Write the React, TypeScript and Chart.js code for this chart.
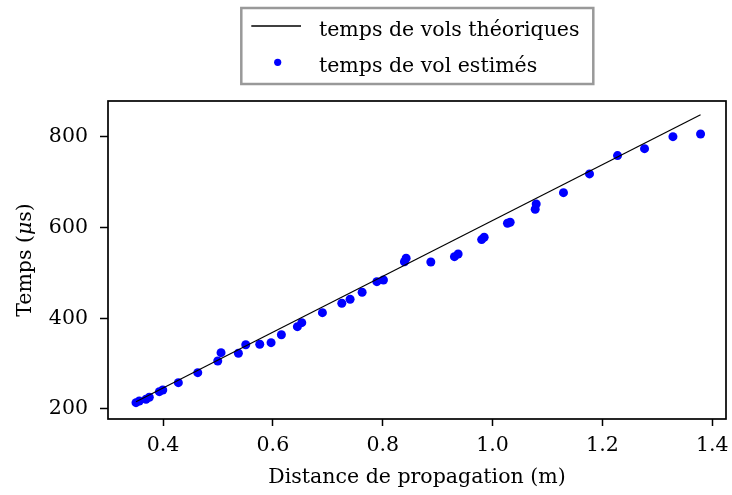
import React, { useEffect, useRef } from "react";
import { Chart, registerables } from "chart.js";

Chart.register(...registerables);

const distances = [
  0.3508, 0.3568, 0.369, 0.375, 0.3933, 0.3995, 0.4279, 0.4632, 0.4996, 0.5056,
  0.5372, 0.5506, 0.5761, 0.5967, 0.6155, 0.6446, 0.6526, 0.6902, 0.7255, 0.7406,
  0.7625, 0.7893, 0.8013, 0.8395, 0.8426, 0.8876, 0.9306, 0.9373, 0.9801, 0.9847,
  1.0271, 1.032, 1.0776, 1.0794, 1.1291, 1.1765, 1.2275, 1.2767, 1.3284, 1.3787,
];
const estimatedTimes = [
  213.9, 217.6, 221.4, 225.8, 238.2, 241.9, 258.0, 280.1, 305.9, 324.2,
  322.9, 341.8, 342.7, 346.3, 363.7, 381.6, 390.4, 412.5, 433.2, 442.0,
  457.4, 480.8, 484.6, 524.9, 532.5, 524.3, 536.0, 541.9, 573.7, 578.8,
  609.7, 611.9, 640.6, 652.3, 677.2, 718.5, 758.9, 774.2, 800.7, 806.6,
];
const theoryDistances = [0.3508, 1.3787];
const theoryTimes = [216, 849];
const xTicks = [0.4, 0.6, 0.8, 1.0, 1.2, 1.4];
const yTicks = [200, 400, 600, 800];
const legendLabels = ["temps de vols théoriques", "temps de vol estimés"];
const xTitle = "Distance de propagation (m)";
const yTitleParts = ["Temps (", "μ", "s)"];

const FONT = "'DejaVu Serif', serif";
const FS = 20.5;

const decorPlugin = {
  id: "decor",
  afterDatasetsDraw(chart: any) {
    const { ctx, chartArea } = chart;
    ctx.save();
    ctx.strokeStyle = "#000";
    ctx.lineWidth = 1.7;
    ctx.strokeRect(chartArea.left, chartArea.top, chartArea.right - chartArea.left, chartArea.bottom - chartArea.top);
    ctx.restore();
  },
  afterDraw(chart: any) {
    const { ctx, chartArea } = chart;
    ctx.save();
    // legend box
    ctx.fillStyle = "#fff";
    ctx.fillRect(241.3, 8, 352, 76);
    ctx.strokeStyle = "#999";
    ctx.lineWidth = 2.5;
    ctx.strokeRect(241.3, 8, 352, 76);
    ctx.strokeStyle = "#000";
    ctx.lineWidth = 1.3;
    ctx.beginPath();
    ctx.moveTo(251.3, 26);
    ctx.lineTo(301, 26);
    ctx.stroke();
    ctx.fillStyle = "#0000ff";
    ctx.beginPath();
    ctx.arc(277.7, 62.3, 3.6, 0, Math.PI * 2);
    ctx.fill();
    ctx.fillStyle = "#000";
    ctx.font = `${FS}px ${FONT}`;
    ctx.textBaseline = "alphabetic";
    ctx.fillText(legendLabels[0], 319, 36);
    ctx.fillText(legendLabels[1], 319, 71.5);

    // y-axis title with italic mu
    const cy = (chartArea.top + chartArea.bottom) / 2;
    const normal = `${FS}px ${FONT}`;
    const italic = `italic ${FS}px ${FONT}`;
    ctx.font = normal;
    const w0 = ctx.measureText(yTitleParts[0]).width;
    const w2 = ctx.measureText(yTitleParts[2]).width;
    ctx.font = italic;
    const w1 = ctx.measureText(yTitleParts[1]).width;
    const total = w0 + w1 + w2;
    ctx.translate(26, cy);
    ctx.rotate(-Math.PI / 2);
    ctx.textBaseline = "middle";
    ctx.textAlign = "left";
    let x = -total / 2;
    ctx.font = normal;
    ctx.fillText(yTitleParts[0], x, 0);
    x += w0;
    ctx.font = italic;
    ctx.fillText(yTitleParts[1], x, 0);
    x += w1;
    ctx.font = normal;
    ctx.fillText(yTitleParts[2], x, 0);
    ctx.restore();
  },
};

export default function App() {
  const ref = useRef<HTMLCanvasElement>(null);
  useEffect(() => {
    document.body.style.margin = "0";
    const chart = new Chart(ref.current!, {
      type: "scatter",
      data: {
        datasets: [
          {
            type: "line",
            label: legendLabels[0],
            data: theoryDistances.map((x, i) => ({ x, y: theoryTimes[i] })),
            borderColor: "#000",
            borderWidth: 1.2,
            pointRadius: 0,
            showLine: true,
            fill: false,
          } as any,
          {
            type: "scatter",
            label: legendLabels[1],
            data: distances.map((x, i) => ({ x, y: estimatedTimes[i] })),
            backgroundColor: "#0000ff",
            borderColor: "#0000ff",
            borderWidth: 0,
            pointRadius: 4.5,
          },
        ],
      },
      options: {
        responsive: false,
        animation: false,
        layout: { padding: { top: 101, right: 6, left: 0, bottom: 0 } },
        plugins: { legend: { display: false }, tooltip: { enabled: false } },
        scales: {
          x: {
            type: "linear",
            min: 0.2998,
            max: 1.425,
            afterBuildTicks: (s: any) => {
              s.ticks = xTicks.map((v) => ({ value: v }));
            },
            afterFit: (s: any) => {
              s.height = 76;
              s.paddingLeft = 0;
              s.paddingRight = 0;
            },
            grid: { drawOnChartArea: false, drawTicks: true, tickLength: 7, color: "#000", tickWidth: 1.5 },
            border: { display: false },
            ticks: {
              color: "#000",
              font: { family: FONT, size: FS },
              padding: 7,
              maxRotation: 0,
              callback: (v: any) => Number(v).toFixed(1),
            },
            title: {
              display: true,
              text: xTitle,
              color: "#000",
              font: { family: FONT, size: FS },
              padding: { top: 0, bottom: 5 },
            },
          },
          y: {
            type: "linear",
            min: 177.9,
            max: 879.4,
            afterBuildTicks: (s: any) => {
              s.ticks = yTicks.map((v) => ({ value: v }));
            },
            afterFit: (s: any) => {
              s.width = 108;
              s.paddingTop = 0;
              s.paddingBottom = 0;
            },
            grid: { drawOnChartArea: false, drawTicks: true, tickLength: 8, color: "#000", tickWidth: 1.5 },
            border: { display: false },
            ticks: {
              color: "#000",
              font: { family: FONT, size: FS },
              padding: 12,
            },
            title: { display: false },
          },
        },
      },
      plugins: [decorPlugin],
    });
    return () => chart.destroy();
  }, []);
  return <canvas ref={ref} width={732} height={495} style={{ display: "block" }} />;
}
